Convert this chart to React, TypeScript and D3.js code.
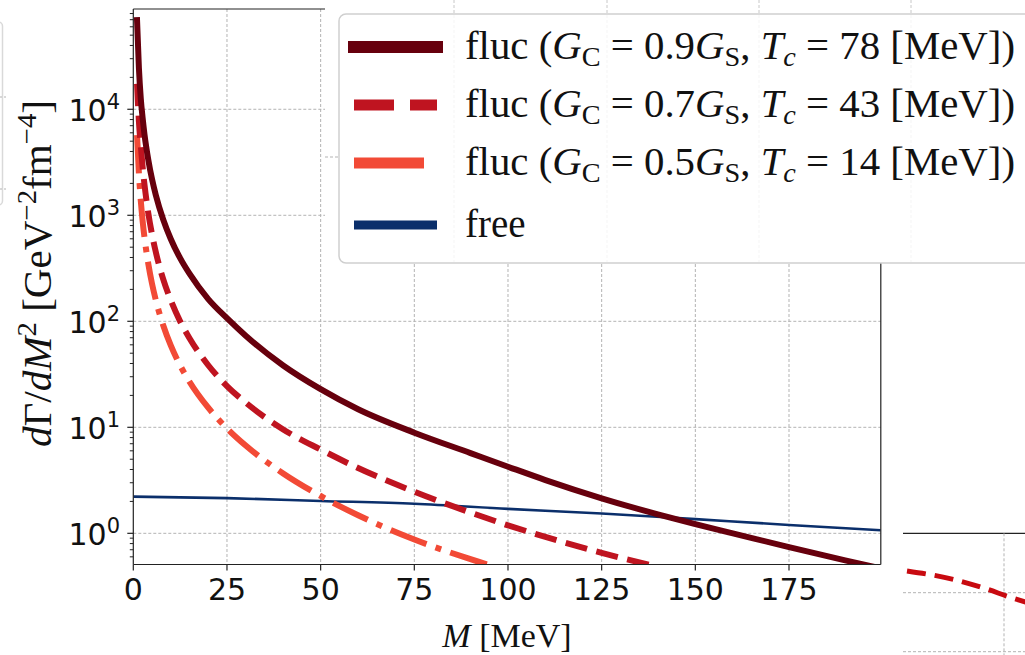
import React from "react";
import * as d3 from "d3";

// ---------- data ----------
const xTicks = [0, 25, 50, 75, 100, 125, 150, 175];
const yTickExps = [0, 1, 2, 3, 4];

const flucStrongM = [1, 1.5, 2, 2.5, 3, 4, 5, 6, 8, 10, 12.5, 15, 20, 25, 30, 40, 50, 60, 75, 90, 100, 110, 125, 140, 150, 160, 175, 190, 199.5];
const flucStrongV = [69200, 24500, 12600, 8220, 5750, 3350, 2190, 1556, 908, 598, 394, 281, 162, 107, 73.1, 38.3, 22.9, 14.8, 8.9, 5.71, 4.25, 3.18, 2.14, 1.51, 1.22, 1.0, 0.741, 0.556, 0.467];

const flucMidM = [1, 1.5, 2, 2.5, 3, 4, 5, 6, 8, 10, 12.5, 15, 20, 25, 30, 40, 50, 60, 75, 90, 100, 110, 125, 140, 150];
const flucMidV = [17400, 7670, 4520, 2820, 1930, 1047, 661, 451, 248, 158, 100, 69.2, 38.5, 24.5, 17.1, 9.55, 6.17, 4.13, 2.47, 1.57, 1.19, 0.925, 0.654, 0.483, 0.4];

const flucWeakM = [1, 1.5, 2, 2.5, 3, 4, 5, 6, 8, 10, 12.5, 15, 20, 25, 30, 40, 50, 60, 75, 90, 100];
const flucWeakV = [5710, 2470, 1370, 877, 612, 349, 226, 159, 91.2, 59.2, 38.4, 26.9, 15.3, 9.77, 6.73, 3.67, 2.25, 1.48, 0.875, 0.57, 0.445];

const freeM = [0, 25, 50, 75, 100, 125, 150, 175, 199.5];
const freeV = [2.22, 2.15, 2.02, 1.9, 1.7, 1.54, 1.36, 1.2, 1.07];

const legendGc = ["0.9", "0.7", "0.5"];
const legendTc = ["78", "43", "14"];

// fragment of a neighbouring panel (bottom right)
const fragX = [0, 0.4, 0.65, 0.86, 1.0];
const fragY = [1.0, 0.75, 0.5, 0.25, 0.1];

// ---------- styles ----------
const C_DARK = "#67000d";
const C_MID = "#bf1420";
const C_LIGHT = "#f24a36";
const C_FREE = "#0b2f6b";
const GRID = "#b3b3b3";
const SERIF = "'Liberation Serif', 'Times New Roman', serif";
const SANS = "'DejaVu Sans', sans-serif";

const L = 133.3, R = 880.8, T = 9, B = 564.5;

export default function App() {
  const x = d3.scaleLinear().domain([0, 199.5]).range([L, R]);
  const y = d3.scaleLog().domain([0.508, 88300]).range([B, T]);

  const mk = (ms: number[], vs: number[]) =>
    d3.line<number>().x((_, i) => x(ms[i])).y((v) => y(v)).curve(d3.curveMonotoneX)(vs) || "";

  const minorTicks: number[] = [];
  for (let e = -1; e <= 4; e++) for (let k = 2; k <= 9; k++) {
    const v = k * Math.pow(10, e);
    if (v >= 0.508 && v <= 88300) minorTicks.push(v);
  }

  const fx = d3.scaleLinear().domain([0, 1]).range([907, 1027]);
  const fy = d3.scaleLinear().domain([0, 1]).range([606, 571]);
  const fragPath = d3.line<number>().x((_, i) => fx(fragX[i])).y((v) => fy(v)).curve(d3.curveMonotoneX)(fragY) || "";

  const legendStyles = [
    { c: C_DARK, dash: undefined, w: 12, cap: "square" },
    { c: C_MID, dash: "40,16", w: 11, cap: "butt" },
    { c: C_LIGHT, dash: "70,16,10,16", w: 11, cap: "butt" },
  ];

  return (
    <svg width={1025} height={655} style={{ position: "absolute", left: 0, top: 0, background: "#fff" }}
      xmlns="http://www.w3.org/2000/svg">
      <defs>
        <clipPath id="plotClip"><rect x={L} y={T} width={R - L} height={B - T} /></clipPath>
      </defs>
      <rect x={0} y={0} width={1025} height={655} fill="#fff" />

      {/* left fragment of another panel */}
      <rect x={-40} y={22} width={42.5} height={183} rx={4} fill="none" stroke="#d9d9d9" strokeWidth={1.5} />
      <line x1={0} x2={8} y1={97} y2={97} stroke={GRID} strokeDasharray="2,2" />
      <line x1={0} x2={8} y1={189} y2={189} stroke={GRID} strokeDasharray="2,2" />

      {/* grid */}
      {xTicks.filter((t) => t > 0).map((t) => (
        <line key={"gx" + t} x1={x(t)} x2={x(t)} y1={T} y2={B} stroke={GRID} strokeWidth={1} strokeDasharray="3,2" />
      ))}
      {yTickExps.map((e) => (
        <line key={"gy" + e} x1={L} x2={R} y1={y(Math.pow(10, e))} y2={y(Math.pow(10, e))} stroke={GRID} strokeWidth={1} strokeDasharray="3,2" />
      ))}

      {/* curves */}
      <g clipPath="url(#plotClip)" fill="none">
        <path d={mk(freeM, freeV)} stroke={C_FREE} strokeWidth={2.6} />
        <path d={mk(flucWeakM, flucWeakV)} stroke={C_LIGHT} strokeWidth={6} strokeDasharray="38.4,9.6,6,9.6" />
        <path d={mk(flucMidM, flucMidV)} stroke={C_MID} strokeWidth={6} strokeDasharray="22.2,9.6" />
        <path d={mk(flucStrongM, flucStrongV)} stroke={C_DARK} strokeWidth={6} strokeLinecap="square" />
      </g>

      {/* spines */}
      <g stroke="#222" strokeWidth={1.2} fill="none">
        <line x1={L} x2={L} y1={T} y2={B} />
        <line x1={L} x2={R} y1={B} y2={B} />
        <line x1={R} x2={R} y1={T} y2={B} />
        <line x1={L} x2={R} y1={T} y2={T} />
      </g>

      {/* ticks */}
      {xTicks.map((t) => (
        <g key={"xt" + t}>
          <line x1={x(t)} x2={x(t)} y1={B} y2={B + 6} stroke="#222" strokeWidth={1.2} />
          <text x={x(t)} y={B + 35.5} textAnchor="middle" fontFamily={SANS} fontSize={30} fill="#111">{t}</text>
        </g>
      ))}
      {yTickExps.map((e) => (
        <g key={"yt" + e}>
          <line x1={L - 6} x2={L} y1={y(Math.pow(10, e))} y2={y(Math.pow(10, e))} stroke="#222" strokeWidth={1.2} />
          <text x={120} y={y(Math.pow(10, e)) + 12} textAnchor="end" fontFamily={SANS} fontSize={30} fill="#111">
            10<tspan dy={-12} fontSize={21}>{e}</tspan>
          </text>
        </g>
      ))}
      {minorTicks.map((v) => (
        <line key={"mt" + v} x1={L - 3.5} x2={L} y1={y(v)} y2={y(v)} stroke="#222" strokeWidth={1} />
      ))}

      {/* axis labels */}
      <text x={507} y={647} textAnchor="middle" fontFamily={SERIF} fontSize={34} fill="#111">
        <tspan fontStyle="italic">M</tspan> [MeV]
      </text>
      <text transform="translate(51,273.5) rotate(-90)" textAnchor="middle" fontFamily={SERIF} fontSize={40} fill="#111"
        textLength={347} lengthAdjust="spacingAndGlyphs">
        <tspan fontStyle="italic">d</tspan>Γ/<tspan fontStyle="italic">dM</tspan>
        <tspan dy={-15} fontSize={28}>2</tspan>
        <tspan dy={15}> [GeV</tspan>
        <tspan dy={-15} fontSize={28}>−2</tspan>
        <tspan dy={15}>fm</tspan>
        <tspan dy={-15} fontSize={28}>−4</tspan>
        <tspan dy={15}>]</tspan>
      </text>

      {/* overlay of neighbouring figure (top-right) */}
      <rect x={325} y={0} width={700} height={263} fill="#fff" />
      {[454, 607, 759, 911].map((gx) => (
        <line key={"og" + gx} x1={gx} x2={gx} y1={0} y2={262} stroke="#c8c8c8" strokeWidth={1} strokeDasharray="3,2" />
      ))}
      <line x1={325} x2={340} y1={157} y2={157} stroke={GRID} strokeDasharray="3,2" />

      {/* legend */}
      <rect x={339} y={14} width={720} height={249} rx={7} fill="#fff" fillOpacity={0.82} stroke="#cfcfcf" strokeWidth={1.5} />
      {legendStyles.map((s, i) => {
        const cy = 47 + i * 58;
        return (
          <g key={"lg" + i}>
            <line x1={354} x2={437} y1={cy} y2={cy} stroke={s.c} strokeWidth={s.w} strokeDasharray={s.dash}
              strokeLinecap={s.cap as any} />
            <text x={465} y={cy + 12} fontFamily={SERIF} fontSize={39} fill="#111" textLength={550} lengthAdjust="spacingAndGlyphs">
              fluc (<tspan fontStyle="italic">G</tspan><tspan dy={7} fontSize={27}>C</tspan>
              <tspan dy={-7}> = {legendGc[i]}</tspan><tspan fontStyle="italic">G</tspan><tspan dy={7} fontSize={27}>S</tspan>
              <tspan dy={-7}>, </tspan><tspan fontStyle="italic">T</tspan><tspan dy={7} fontSize={27} fontStyle="italic">c</tspan>
              <tspan dy={-7}> = {legendTc[i]} [MeV])</tspan>
            </text>
          </g>
        );
      })}
      <line x1={354} x2={437} y1={225} y2={225} stroke={C_FREE} strokeWidth={9} />
      <text x={465} y={237} fontFamily={SERIF} fontSize={39} fill="#111">free</text>

      {/* bottom-right fragment of neighbouring panel */}
      <line x1={903} x2={1025} y1={533.3} y2={533.3} stroke="#222" strokeWidth={1.2} />
      <line x1={903} x2={1025} y1={592.7} y2={592.7} stroke={GRID} strokeDasharray="3,2" />
      <line x1={903} x2={1025} y1={651.7} y2={651.7} stroke={GRID} strokeDasharray="3,2" />
      <line x1={1004} x2={1004} y1={533.3} y2={655} stroke={GRID} strokeDasharray="3,2" />
      <path d={fragPath} fill="none" stroke="#c80a10" strokeWidth={5} strokeDasharray="19,9" />
    </svg>
  );
}
